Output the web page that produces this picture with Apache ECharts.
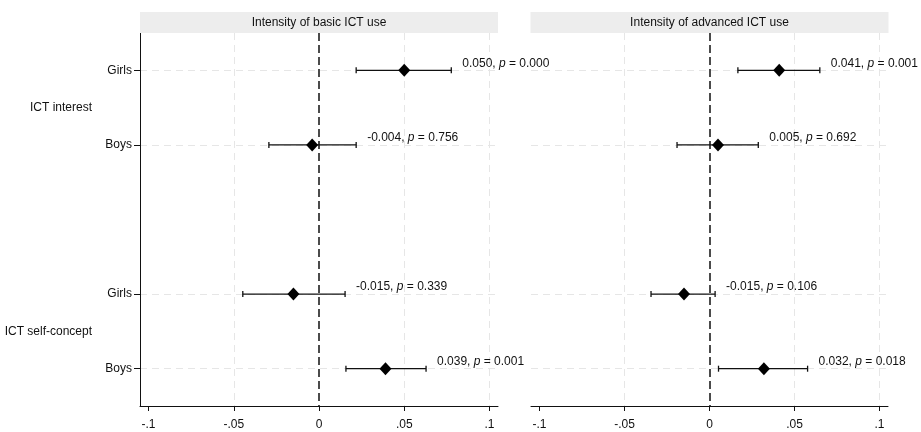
<!DOCTYPE html>
<html>
<head>
<meta charset="utf-8">
<script src="https://cdn.jsdelivr.net/npm/echarts@6/dist/echarts.min.js"></script>
<style>html,body{margin:0;padding:0;background:#fff}#c{width:921px;height:432px}</style>
</head>
<body>
<div id="c"></div>
<script>
// ---- data ----
var panelTitles = ['Intensity of basic ICT use', 'Intensity of advanced ICT use'];
var rowLabels = ['Girls', 'Boys', '', 'Girls', 'Boys'];
var rowPos = [0, 1, 3, 4];
var groupLabels = ['ICT interest', 'ICT self-concept'];
var groupPos = [0.5, 3.5];
var xTicks = [-0.1, -0.05, 0, 0.05, 0.1];
var xGrid = [-0.05, 0.05, 0.1];

var basicEst = [0.050, -0.004, -0.015, 0.039];
var basicLo  = [0.0218, -0.0294, -0.0447, 0.0158];
var basicHi  = [0.0776, 0.0218, 0.0153, 0.0628];
var basicP   = ['0.000', '0.756', '0.339', '0.001'];

var advEst = [0.041, 0.005, -0.015, 0.032];
var advLo  = [0.0167, -0.0191, -0.0344, 0.0053];
var advHi  = [0.0649, 0.0287, 0.0033, 0.0577];
var advP   = ['0.001', '0.692', '0.106', '0.018'];

var FONT = "'Liberation Sans', Arial, sans-serif";
var TXT = '#111';

function fmtX(v) {
  if (v === 0) return '0';
  var s = String(+v.toFixed(2));
  return s.replace('0.', '.');
}

var panels = [
  {est: basicEst, lo: basicLo, hi: basicHi, p: basicP},
  {est: advEst, lo: advLo, hi: advHi, p: advP}
];

var grids = [
  {left: 140, right: 423, top: 33, bottom: 26, containLabel: false, outerBoundsMode: 'none'},
  {left: 531, right: 33, top: 33, bottom: 26, containLabel: false, outerBoundsMode: 'none'}
];

var xAxes = [], yAxes = [], series = [];
panels.forEach(function (pn, k) {
  xAxes.push({
    type: 'value', gridIndex: k, min: -0.105, max: 0.105, position: 'bottom',
    axisLine: {show: true, onZero: false, lineStyle: {color: '#111', width: 1}},
    axisTick: {show: true, length: 5, customValues: xTicks, lineStyle: {color: '#111'}},
    axisLabel: {customValues: xTicks, formatter: fmtX, color: TXT, fontFamily: FONT, fontSize: 12, margin: 13},
    splitLine: {show: false}
  });
  xAxes.push({
    type: 'value', gridIndex: k, min: -0.105, max: 0.105, position: 'top',
    axisLine: {show: false}, axisTick: {show: false}, axisLabel: {show: false}, splitLine: {show: false},
    name: '{t|' + panelTitles[k] + '}', nameLocation: 'middle', nameGap: 0,
    nameTextStyle: {
      rich: {
        t: {color: TXT, fontFamily: FONT, fontSize: 12, backgroundColor: '#ededed',
            width: 358, height: 21, lineHeight: 21, align: 'center', verticalAlign: 'middle'}
      }
    }
  });
  yAxes.push({
    type: 'value', gridIndex: k, min: -0.5, max: 4.5, inverse: true,
    show: k === 0,
    axisLine: {show: true, onZero: false, lineStyle: {color: '#111', width: 1}},
    axisTick: {show: true, length: 6, customValues: rowPos, lineStyle: {color: '#111'}},
    axisLabel: {customValues: rowPos, formatter: function (v) { return rowLabels[Math.round(v)]; },
                color: TXT, fontFamily: FONT, fontSize: 12, margin: 8},
    splitLine: {show: false}
  });
  yAxes.push({
    type: 'value', gridIndex: k, min: -0.5, max: 4.5, inverse: true, position: 'left',
    show: k === 0, offset: 40,
    axisLine: {show: false}, axisTick: {show: false}, splitLine: {show: false},
    axisLabel: {customValues: groupPos, formatter: function (v) { return v < 2 ? groupLabels[0] : groupLabels[1]; },
                color: TXT, fontFamily: FONT, fontSize: 12, margin: 8}
  });

  var xi = k * 2, yi = k * 2;

  var gl = [];
  xGrid.forEach(function (v) { gl.push({xAxis: v}); });
  rowPos.forEach(function (v) { gl.push({yAxis: v}); });
  series.push({
    type: 'line', xAxisIndex: xi, yAxisIndex: yi, data: [], silent: true, z: 0,
    markLine: {silent: true, symbol: 'none', label: {show: false}, z: 0,
      lineStyle: {color: '#e6e6e6', type: [7, 5], width: 1}, data: gl, animation: false}
  });
  series.push({
    type: 'line', xAxisIndex: xi, yAxisIndex: yi, data: [], silent: true, z: 1,
    markLine: {silent: true, symbol: 'none', label: {show: false}, z: 1,
      lineStyle: {color: '#111', type: [8, 4], width: 1.5}, data: [{xAxis: 0}], animation: false}
  });

  var ebData = rowPos.map(function (y, i) { return [pn.lo[i], pn.hi[i], y]; });
  series.push({
    type: 'custom', xAxisIndex: xi, yAxisIndex: yi, z: 4, silent: true,
    data: ebData,
    renderItem: function (params, api) {
      var a = api.coord([api.value(0), api.value(2)]);
      var b = api.coord([api.value(1), api.value(2)]);
      var st = {stroke: '#111', lineWidth: 1.3, fill: null};
      var c = 3;
      return {type: 'group', children: [
        {type: 'line', shape: {x1: a[0], y1: a[1], x2: b[0], y2: b[1]}, style: st},
        {type: 'line', shape: {x1: a[0], y1: a[1] - c, x2: a[0], y2: a[1] + c}, style: st},
        {type: 'line', shape: {x1: b[0], y1: b[1] - c, x2: b[0], y2: b[1] + c}, style: st}
      ]};
    }
  });

  series.push({
    type: 'scatter', xAxisIndex: xi, yAxisIndex: yi, z: 5, silent: true,
    symbol: 'diamond', symbolSize: [12, 13], itemStyle: {color: '#000', opacity: 1},
    data: rowPos.map(function (y, i) { return [pn.est[i], y]; })
  });

  series.push({
    type: 'scatter', xAxisIndex: xi, yAxisIndex: yi, z: 6, silent: true,
    symbolSize: 0, itemStyle: {opacity: 1},
    data: rowPos.map(function (y, i) { return {value: [pn.hi[i], y], est: pn.est[i], p: pn.p[i]}; }),
    label: {
      show: true, position: 'right', distance: 11, offset: [0, -7],
      formatter: function (prm) {
        return '{a|' + prm.data.est.toFixed(3) + ', }{i|p}{a| = ' + prm.data.p + '}';
      },
      rich: {
        a: {color: TXT, fontFamily: FONT, fontSize: 12},
        i: {color: TXT, fontFamily: FONT, fontSize: 12, fontStyle: 'italic'}
      }
    }
  });
});

var chart = echarts.init(document.getElementById('c'), null, {renderer: 'canvas'});
chart.setOption({
  animation: false,
  backgroundColor: '#fff',
  textStyle: {fontFamily: FONT},
  grid: grids,
  xAxis: xAxes,
  yAxis: yAxes,
  series: series
});
</script>
</body>
</html>
